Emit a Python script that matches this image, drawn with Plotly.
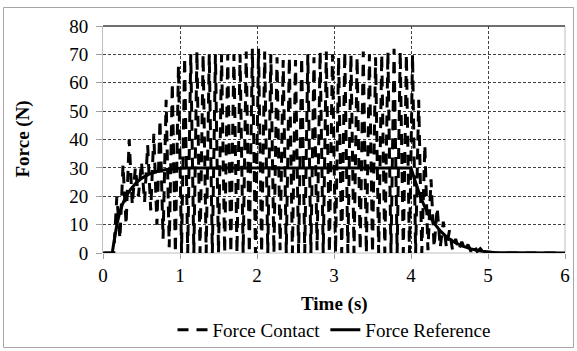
import numpy as np
import plotly.graph_objects as go

# ---------------- data ----------------
# Force Contact: sampled every 0.04 s starting at t = 0.02 s
CONTACT_START = 0.02
CONTACT_STEP = 0.04
CONTACT_FORCE = [
    0, 0, 0, 0,                                   # 0.02 - 0.14
    20, 5, 31, 10, 40, 17, 30, 20, 32, 18,        # 0.18 - 0.54
    38, 15, 42, 10, 47, 5, 54, 2, 60, 0, 66, 0,   # 0.58 - 1.02
    69, 0, 70, 0, 71, 0, 70, 0, 70, 0, 70, 0,     # 1.06 - 1.50
    70, 0, 70, 0, 70, 0, 70, 0, 71, 0, 72, 0,     # 1.54 - 1.98
    72, 0, 71, 0, 70, 0, 69, 1, 68, 0, 69, 0,     # 2.02 - 2.46
    68, 0, 69, 0, 70, 0, 69, 1, 71, 0, 71, 0,     # 2.50 - 2.94
    70, 0, 69, 0, 71, 0, 70, 0, 69, 1, 71, 0,     # 2.98 - 3.42
    70, 0, 69, 0, 70, 0, 71, 0, 72, 0, 71, 0,     # 3.46 - 3.90
    70, 0, 70,                                    # 3.94 - 4.02
    0, 54, 0, 38, 1, 26, 2, 16, 2, 11, 2, 8,      # 4.06 - 4.50
    1, 5, 1, 4, 1, 3, 0.5, 2.5, 0.5, 1.5, 0.3, 1, # 4.54 - 4.98
    0, 0, 0, 0, 0, 0, 0, 0, 0, 0, 0, 0,           # 5.02 - 5.46
    0, 0, 0, 0, 0, 0, 0, 0, 0, 0, 0, 0, 0,        # 5.50 - 5.98
]
CONTACT_TIME = [round(CONTACT_START + CONTACT_STEP * i, 2) for i in range(len(CONTACT_FORCE))]

REF_TIME = [0, 0.12, 0.14, 0.16, 0.18, 0.21, 0.25, 0.30, 0.36, 0.43, 0.51, 0.60,
            0.70, 0.82, 0.95, 1.10, 4.00, 4.04, 4.08, 4.12, 4.17, 4.23, 4.30,
            4.38, 4.47, 4.57, 4.68, 4.80, 4.93, 5.10, 6.00]
REF_FORCE = [0, 0, 3.5, 7, 10, 13.5, 17, 20, 22.5, 24.7, 26.5, 27.8,
             28.7, 29.4, 29.8, 30, 30, 26.5, 23, 20, 16.8, 13.5, 10.5,
             7.8, 5.5, 3.7, 2.3, 1.3, 0.6, 0.1, 0]

X_TICKS = [0, 1, 2, 3, 4, 5, 6]
Y_TICKS = [0, 10, 20, 30, 40, 50, 60, 70, 80]

FONT = "Liberation Serif"
FS = 19

def fnt(size=FS):
    return dict(family=FONT, size=size, color="black")

fig = go.Figure()
fig.add_trace(go.Scatter(
    x=CONTACT_TIME, y=CONTACT_FORCE, mode="lines", name="Force Contact",
    line=dict(color="black", width=3, dash="11px,8px", simplify=False),
))
fig.add_trace(go.Scatter(
    x=REF_TIME, y=REF_FORCE, mode="lines", name="Force Reference",
    line=dict(color="black", width=3),
))

W, H = 577, 351
L, R, T, B = 103, 12, 26, 98
pw, ph = W - L - R, H - T - B

def px_x(p):
    return (p - L) / pw

def px_y(p):
    return (H - B - p) / ph

fig.update_layout(
    width=W, height=H,
    margin=dict(l=L, r=R, t=T, b=B, autoexpand=False),
    paper_bgcolor="white", plot_bgcolor="white",
    font=fnt(),
    showlegend=True,
    legend=dict(orientation="h", x=0.5, xanchor="center", y=px_y(330), yanchor="middle",
                font=fnt(), itemwidth=30, tracegroupgap=0, bgcolor="rgba(0,0,0,0)"),
    xaxis=dict(range=[0, 6], tickvals=X_TICKS, ticktext=[str(v) for v in X_TICKS],
               showgrid=True, gridcolor="#404040", griddash="3px,2px", gridwidth=1,
               zeroline=False, showline=False, ticks="outside", ticklen=5,
               tickcolor="#a0a0a0", tickfont=fnt(), automargin=False),
    yaxis=dict(range=[0, 80], tickvals=Y_TICKS, ticktext=[str(v) for v in Y_TICKS],
               showgrid=True, gridcolor="#404040", griddash="3px,2px", gridwidth=1,
               zeroline=False, showline=True, linecolor="#bfbfbf", linewidth=1,
               ticks="outside", ticklen=6, tickcolor="#a0a0a0", tickfont=fnt(),
               ticklabelstandoff=4, automargin=False),
    shapes=[
        dict(type="line", xref="paper", yref="paper", x0=0, x1=1, y0=1, y1=1,
             line=dict(color="#404040", width=1.5), layer="above"),
        dict(type="line", xref="paper", yref="paper", x0=1, x1=1, y0=0, y1=1,
             line=dict(color="#bfbfbf", width=1), layer="below"),
        dict(type="line", xref="paper", yref="paper", x0=0, x1=1, y0=0, y1=0,
             line=dict(color="#bfbfbf", width=1), layer="below"),
        dict(type="rect", xref="paper", yref="paper",
             x0=px_x(3.5), x1=px_x(573.5), y0=px_y(347.5), y1=px_y(7.5),
             line=dict(color="#a6a6a6", width=1), fillcolor="rgba(0,0,0,0)"),
    ],
    annotations=[
        dict(text="<b>Time (s)</b>", xref="paper", yref="paper", x=0.5, y=px_y(304),
             xanchor="center", yanchor="middle", showarrow=False, font=fnt()),
        dict(text="<b>Force (N)</b>", xref="paper", yref="paper", x=px_x(22), y=0.5,
             xanchor="center", yanchor="middle", textangle=-90, showarrow=False,
             font=fnt()),
    ],
)

fig.write_html("out.html", config={"displayModeBar": False},
               post_script="document.body.style.margin='0';document.body.style.overflow='hidden';")
